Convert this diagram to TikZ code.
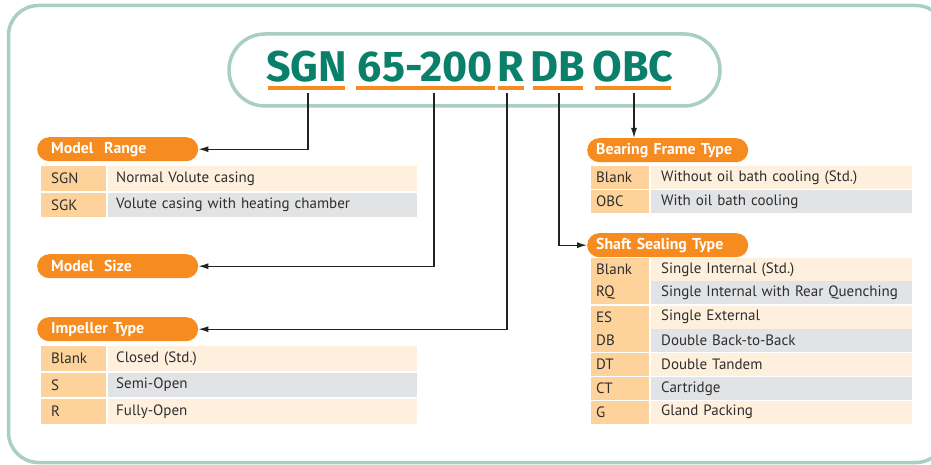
\documentclass[tikz,border=0pt]{standalone}
\usepackage{fontspec}
\setmainfont{PT Sans}
\newfontfamily\titlefont{Fira Sans}
\usetikzlibrary{arrows.meta,positioning}

\definecolor{framec}{HTML}{A9CEC4}
\definecolor{teal}{HTML}{0A806A}
\definecolor{orng}{HTML}{F68B1F}
\definecolor{codec}{HTML}{FDD39B}
\definecolor{cream}{HTML}{FEF0DD}
\definecolor{grey}{HTML}{E2E3E5}
\definecolor{txt}{HTML}{2E2E2E}
\definecolor{linec}{HTML}{222222}

\tikzset{
  uline/.style={fill=orng, inner sep=0pt, minimum height=4pt},
  titletxt/.style={anchor=base, inner sep=0pt, text=teal, font=\titlefont\bfseries\fontsize{43}{43}\selectfont},
  pill/.style={fill=orng, text=white, font=\bfseries\fontsize{15.8}{16}\selectfont, rounded corners=12pt,
    minimum height=24pt, minimum width=161pt, text width=133pt, inner xsep=14pt, inner ysep=0pt,
    align=left, anchor=north west},
  cell/.style={anchor=north west, inner ysep=0pt, align=left, text=txt, font=\fontsize{15}{16}\selectfont},
  lcode/.style={cell, fill=codec, minimum width=65pt, text width=45pt, inner xsep=10pt},
  ldesc/.style={cell, minimum width=309pt, text width=293pt, inner xsep=8pt},
  rcode/.style={cell, fill=codec, minimum width=58pt, text width=48pt, inner xsep=5pt},
  rdesc/.style={cell, minimum width=261pt, text width=241pt, inner xsep=10pt},
  conn/.style={draw=linec, line width=1.2pt, -{Latex[length=10pt,width=6pt]}}
}

\begin{document}
\begin{tikzpicture}[x=1pt,y=-1pt]
\useasboundingbox (0,0) rectangle (931,465);
\draw[framec, line width=3.5pt, rounded corners=30pt] (8.5,5.5) rectangle (946,462.5);
\draw[framec, line width=3.5pt, rounded corners=36pt] (229,34) rectangle (720,106);

\node[uline, minimum width=77pt] (uSGN) at (306.5,88) {};
\node[uline, minimum width=139pt] (uSize) at (425.5,88) {};
\node[uline, minimum width=26pt] (uR) at (511,88) {};
\node[uline, minimum width=50pt] (uDB) at (558,88) {};
\node[uline, minimum width=76pt] (uOBC) at (633,88) {};
\node[titletxt] (tSGN) at ([yshift=6pt]uSGN.center) {SGN};
\node[titletxt] (tSize) at ([yshift=6pt]uSize.center) {65-200};
\node[titletxt] (tR) at ([yshift=6pt]uR.center) {R};
\node[titletxt] (tDB) at ([yshift=6pt]uDB.center) {DB};
\node[titletxt] (tOBC) at ([yshift=6pt]uOBC.center) {OBC};

\node[pill] (range) at (37,137) {Model\ \ Range};
\node[pill] (size) at (37,254) {Model\ \ Size};
\node[pill] (impeller) at (37,317) {Impeller Type};
\node[pill, inner xsep=9pt, text width=143pt] (bearing) at (587,138) {Bearing Frame Type};
\node[pill, inner xsep=9pt, text width=143pt] (sealing) at (587,233) {Shaft Sealing Type};

\foreach \t/\c/\d/\f [count=\i] in {166/SGN/Normal Volute casing/cream,
    192.5/SGK/Volute casing with heating chamber/grey}
  {\node[lcode, minimum height=24.5pt] (rc\i) at (41,\t) {\c};
   \node[ldesc, fill=\f, minimum height=24.5pt] (rd\i) at (108,\t) {\d};}

\foreach \t/\c/\d/\f [count=\i] in {346/Blank/Closed (Std.)/cream,
    372.5/S/Semi-Open/grey, 399/R/Fully-Open/cream}
  {\node[lcode, minimum height=24.5pt] (ic\i) at (41,\t) {\c};
   \node[ldesc, fill=\f, minimum height=24.5pt] (id\i) at (108,\t) {\d};}

\foreach \t/\c/\d/\f [count=\i] in {166/Blank/Without oil bath cooling (Std.)/cream,
    190/OBC/With oil bath cooling/grey}
  {\node[rcode, minimum height=22.5pt] (bc\i) at (591,\t) {\c};
   \node[rdesc, fill=\f, minimum height=22.5pt] (bd\i) at (651,\t) {\d};}

\foreach \t/\c/\d/\f [count=\i] in {258/Blank/Single Internal (Std.)/cream,
    281/RQ/Single Internal with Rear Quenching/grey, 305.5/ES/Single External/cream,
    328.5/DB/Double Back-to-Back/grey, 353/DT/Double Tandem/cream,
    377/CT/Cartridge/grey, 400.5/G/Gland Packing/cream}
  {\node[rcode, minimum height=23pt] (sc\i) at (591,\t) {\c};
   \node[rdesc, fill=\f, minimum height=23pt] (sd\i) at (651,\t) {\d};}

\draw[conn] ([xshift=1.5pt,yshift=-3pt]uSGN.south) |- (range.east);
\draw[conn] ([xshift=8.5pt,yshift=-3pt]uSize.south) |- (size.east);
\draw[conn] ([xshift=-4pt,yshift=-3pt]uR.south) |- (impeller.east);
\draw[conn] ([xshift=1pt,yshift=-3pt]uDB.south) |- (sealing.west);
\draw[conn] ([xshift=1pt,yshift=-3pt]uOBC.south) -- ([xshift=1pt]uOBC.south |- bearing.north);
\end{tikzpicture}
\end{document}
